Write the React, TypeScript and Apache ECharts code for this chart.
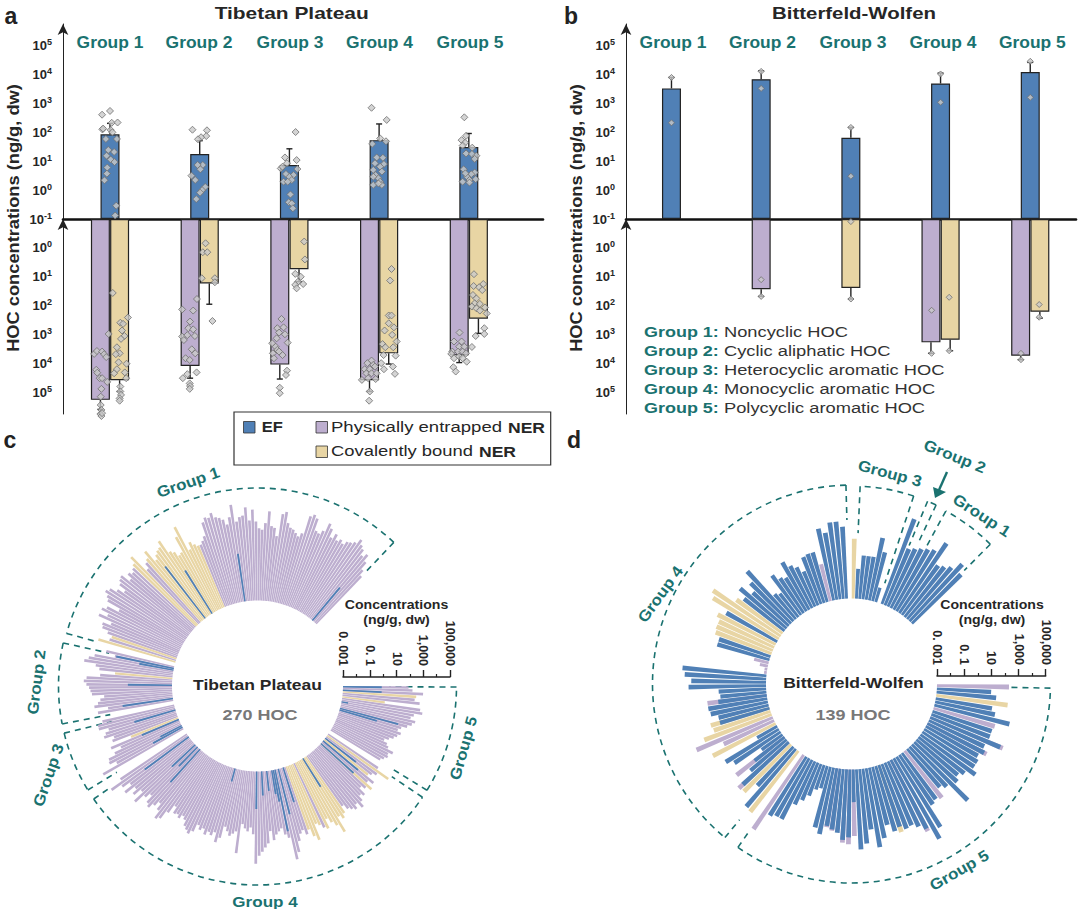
import React, { useEffect, useRef } from "react";
import * as echarts from "echarts";

const BLUE = "#5080b6", PURPLE = "#bdaecf", TAN = "#e8d5a4", TEAL = "#1a7270", INK = "#262626";
const FONT = '"Liberation Sans", Arial, sans-serif';
const GROUPS = ["Group 1", "Group 2", "Group 3", "Group 4", "Group 5"];
const TICK_RADIAL = ["0. 001", "0. 1", "10", "1,000", "100,000"];
const CLASSES = ["Noncyclic HOC", "Cyclic aliphatic HOC", "Heterocyclic aromatic HOC", "Monocyclic aromatic HOC", "Polycyclic aromatic HOC"];

// Panel a: log10 of bar heights and error ends
const aEF = [1.93, 1.25, 0.87, 1.73, 1.49];
const aEFErr = [2.31, 1.71, 1.43, 2.29, 1.96];
const aPE = [5.26, 4.09, 4.04, 4.58, 3.72];
const aPEErr = [5.59, 4.51, 4.54, 4.97, 3.97];
const aCB = [4.58, 1.23, 0.74, 3.65, 2.45];
const aCBErr = [4.97, 1.95, 1.17, 4.02, 2.96];
// Panel b
const bEF = [3.52, 3.84, 1.81, 3.69, 4.09];
const bEFErr = [3.9, 4.13, 2.17, 4.05, 4.42];
const bPE = [null, 1.43, null, 3.27, 3.73];
const bPEErr = [null, 1.68, null, 3.65, 3.87];
const bCB = [null, null, 1.39, 3.18, 2.21];
const bCBErr = [null, null, 1.77, 3.56, 2.43];

// Individual samples: [jitter, log10 value]
const aEFPts = [
  [[-23,2.61],[0,2.74],[5,2.33],[22,2.34],[-22,2.10],[2,2.08],[-12,1.77],[20,1.77],[-5,1.39],[12,1.32],[-10,1.19],[2,1.06],[13,.97],[-8,.78],[-9,.57],[-16,.34],[18,-.54],[15,-.88],[7,2.0],[-20,2.13]],
  [[-21,2.09],[21,2.07],[19,1.87],[4,1.83],[-5,1.76],[9,.87],[-6,.87],[2,.72],[-24,.5],[-13,.35],[16,.11],[7,0],[1,-.09],[-10,-.31]],
  [[18,2.01],[-13,1.13],[21,1.04],[-7,.93],[-25,.75],[-20,.81],[23,.73],[12,.52],[-10,.56],[0,.46],[7,.35],[-17,.29],[-5,.29],[3,-.15],[-2,-.42],[7,-.46],[10,-.63]],
  [[-22,2.85],[22,2.43],[-20,1.60],[3,1.79],[20,1.69],[-7,1.13],[11,1.12],[-12,.93],[14,.90],[3,.81],[-17,.70],[8,.64],[-10,.52],[-2,.41],[-17,.46],[3,.29],[-17,.18],[8,.18],[-2,.23]],
  [[-13,2.52],[-8,1.88],[-21,1.73],[-11,1.64],[-18,1.54],[10,1.47],[-8,1.27],[9,1.25],[22,1.19],[17,1.08],[-15,.72],[17,.61],[7,.55],[-5,.46],[2,.35],[-18,.29],[20,.38],[2,.26],[-10,.58]],
];
const aPEPts = [
  [[-4,2.98],[-46,3.67],[-38,3.57],[-23,3.59],[-17,3.68],[-11,3.78],[-40,4.22],[-37,4.32],[-30,4.51],[-23,4.51],[-8,4.64],[-25,4.88],[-27,5.15],[-27,5.44],[-25,5.61],[-28,5.75],[-25,5.82],[-23,5.72]],
  [[-8,1.77],[-51,2.13],[-19,2.17],[-28,2.55],[-33,2.78],[-19,2.82],[-51,3.07],[-36,3.02],[-14,3.05],[-46,3.19],[-23,3.51],[-13,3.65],[-41,3.82],[-29,3.88],[-9,4.31],[-36,4.37],[-49,4.51],[-29,4.69],[-28,4.78],[-29,4.88]],
  [[-23,2.46],[-35,2.78],[-17,2.75],[-30,2.93],[-13,2.99],[-37,3.13],[-50,3.30],[-5,3.28],[-40,3.42],[-35,3.53],[-48,3.65],[-20,3.71],[-30,3.59],[-45,3.82],[-7,4.25],[-10,4.40],[-28,4.84],[-28,5.03]],
  [[-22,3.90],[-34,3.99],[-17,4.05],[-42,4.20],[-27,4.20],[-12,4.11],[-37,4.34],[-22,4.34],[-7,4.34],[-50,4.57],[-32,4.51],[-10,4.54],[-27,4.97],[-29,5.29]],
  [[-27,2.93],[-43,3.24],[-21,3.24],[-28,3.42],[-13,3.42],[-48,3.59],[-31,3.59],[-18,3.59],[-8,3.65],[-51,3.67],[-28,3.76],[-43,3.82],[-18,3.82],[-6,3.94],[-45,4.13],[-38,4.28]],
];
const aCBPts = [
  [[8,1.56],[52,2.41],[30,2.59],[38,2.63],[35,2.86],[42,3.05],[32,3.15],[20,3.44],[28,3.65],[17,3.68],[25,3.96],[48,4.01],[20,4.20],[12,4.34],[43,4.31],[47,4.51],[30,4.80],[30,4.97],[32,5.09],[28,5.21],[28,5.29]],
  [[17,-.16],[9,.15],[22,.15],[6,1.05],[44,1.05],[44,1.19],[37,2.53]],
  [[43,-.22],[45,.40],[17,.90],[33,1.0],[25,1.17],[40,1.25],[17,1.28],[21,1.40]],
  [[36,.73],[32,1.13],[28,2.34],[36,2.34],[28,2.61],[43,2.75],[16,2.86],[38,3.01],[10,3.33],[51,3.24],[18,3.44],[41,3.44],[13,3.71],[48,3.73],[6,3.99],[40,4.11],[14,4.20],[46,4.36]],
  [[15,.91],[14,1.32],[30,1.36],[42,1.25],[39,1.46],[12,1.63],[22,1.75],[17,1.92],[9,2.03],[32,1.94],[47,2.06],[22,2.09],[32,2.17],[52,2.27],[45,2.78],[20,3.05],[45,2.98],[9,3.43]],
];
const bEFPts = [[[0,2.33],[0,3.9]],[[0,3.52],[0,4.11]],[[0,.48],[0,2.17]],[[0,3.04],[0,4.02]],[[0,3.21],[0,4.46]]];
const bPEPts = [[],[[0,1.10],[0,1.68]],[],[[-26,2.16],[-26,3.65]],[[-27,3.65],[-27,3.87]]];
const bCBPts = [[],[],[[0,-.91],[0,1.77]],[[25,1.71],[25,3.56]],[[26,1.96],[26,2.40]]];

// Panel c: longest phase per compound, log10 concentration, Group 1..5 counter-clockwise
const cG1 = [1.9,2.3,2.9,3.4,3.1,3.5,3.7,4.0,3.6,3.4,3.3,3.0,3.2,3.0,3.4,3.0,3.6,3.9,3.2,2.9,3.0,3.9,4.1,3.9,2.5,2.2,2.4,2.6,2.7,3.0,3.8,3.6,1.9,2.5,2.6,3.7,2.8,2.3,2.4,2.9,3.8,3.0,4.0,3.4,3.3,3.0,4.3,3.4,2.9,3.3,3.5,3.6,4.0,3.7,3.8,3.5,2.5,2.2,2.0,2.0,2.2,2.5,2.0,4.0,3.3,2.1,2.0,2.4,2.6,3.7,3.3,3.2,3.0,2.7,3.7,3.2,3.0,2.6,4.1,3.6,3.4,3.2,3.4,3.0,3.7,3.6,3.4,2.8,3.3,3.8,4.0,3.7,3.5,2.4,3.3,3.6,3.0,3.6,2.5,3.1,3.0,2.5,2.1,2.2,3.0];
const cG2 = [2.2,1.5,3.0,3.4,3.7,2.8,2.5,1.3,2.4,3.4,3.6,3.4,3.2,3.1,3.0,2.1,2.4,2.6,2.9,1.9,2.7];
const cG3 = [2.5,2.9,2.9,2.2,2.5,2.7,2.0,2.2,0.8,2.5,1.8,2.4,3.0,3.1,2.6,3.9];
const cG4 = [3.0,4.0,3.2,2.6,3.3,2.5,2.9,2.3,3.2,2.4,2.0,2.6,2.8,2.4,2.0,2.5,3.1,2.9,2.2,1.5,2.0,1.9,2.1,1.8,2.0,2.4,2.6,2.8,2.5,1.9,2.2,2.0,2.4,2.1,2.3,2.0,2.7,2.3,1.4,1.7,2.0,1.8,1.6,3.2,1.0,1.3,1.5,1.2,1.7,3.9,3.3,3.0,2.7,2.4,1.5,2.2,1.8,1.6,1.4,1.9,2.2,3.9,3.4,2.6,2.1,1.9,2.3,2.0,2.6,3.0,1.8,2.0,2.3,2.5,1.8,2.2,2.6,3.3,2.1,2.4,2.1,1.6,2.0,2.2,2.4,2.1,2.6,2.2,1.8,2.0,1.4,1.7,2.1,1.5,1.9,1.2,1.4,1.7,2.6,1.5];
const cG5 = [1.3,1.5,1.7,1.6,1.9,1.4,1.2,0.9,1.2,1.5,1.7,1.9,1.6,1.8,2.2,2.5,2.7,2.3,2.5,3.1,2.9,0.2,2.8,2.4,2.5,3.0,2.2,1.9];
const cTan = [[59,60,61,62,63,64,65,66,67,68,69,70,71,72,73,74,75,78,79,102,104],[7],[8],[67,68,69,70,71,73,74,75,76,77,78,79,80,92,95,98],[21,24]];
const cEF = [[[3,.2],[46,.6],[67,.8],[72,1.9]],[[1,1.4],[2,-.4],[11,.3],[19,.8]],[[3,.2],[9,0],[13,-1.2],[14,-.5]],[[2,1.1],[8,-.6],[10,-1],[12,.3],[36,-2],[49,-.2],[52,-1.2],[55,-1.5],[58,-1.2],[59,-.6],[60,1.7],[62,.5],[65,-.3],[78,-.5],[92,.3],[94,.4],[96,-.1]],[[13,-.1],[14,1.5],[18,-2.5],[25,-.1],[27,-.1]]];

// Panel d
const dG1 = [2.1,2.7,2.0,1.7,1.5,3.2,2.3,2.1,1.9,1.7];
const dG2 = [1.5,3.7];
const dG3 = [-1.9,0.7,1.7,0.2,0.2,0.2,-0.8,1.4];
const dG4 = [2.3,2.7,2.7,2.0,2.4,-0.2,0.8,0.8,0.7,-0.3,0.2,0.5,1.0,-0.1,0.1,0.6,-0.8,-0.6,2.0,1.2,0.6,1.5,0.8,1.2,3.0,2.7,1.3,1.8,1.5,1.5,1.4,1.0,1.0,-1.9,-2.4,-2.8,-2.8,3.2,3.0,2.5,2.7,0.5,0.4,1.4,1.4,1.3,0.8,1.5,1.4,2.3,3.1,1.1,2.2,-1.3,1.6,1.1,-1.1,1.5,0.5,2.0,1.9,0.9,2.6,2.7];
const dG5 = [3.6,2.1,1.9,1.9,0.5,0,-0.5,-1.1,-1.3,1.6,2.0,1.4,1.6,1.7,2.4,2.5,1.9,2.9,2.5,1.5,2.9,2.3,1.4,2.0,2.2,2.1,2.0,2.3,2.9,3.8,3.1,1.4,1.2,1.4,0.7,1.0,2.8,1.3,1.0,1.3,2.0,1.6,1.6,1.4,1.9,1.5,2.8,1.6,1.6,1.7,2.7,1.5,1.2,2.3,1.4,1.0,2.3];
const dPurple = [[],[],[],[5,33,34,35,36,43,50,51,57,59],[0,11,12,14,15,16,28,33,44,46,49,56]];
const dTan = [[],[],[7],[23,24,25,27,28,29,30,47,48,49,52,60,63],[24,53]];
const dEF = [[],[],[],[[43,.6],[47,.8],[57,-.2],[59,1.6]],[[11,1.3],[12,1.5],[14,2.2],[15,2.0],[16,-.6],[24,1.8],[28,2.7],[44,1.7],[46,2.6]]];

const COLORS = [BLUE, PURPLE, TAN];

function polarRows(groups: number[][], gaps: number[], tan: number[][], other: number[][], otherCode: number, defCode: number, efs: number[][][]) {
  const total = groups.reduce((s, g) => s + g.length, 0) + gaps.reduce((s, g) => s + g, 0);
  const main: number[][] = [], over: number[][] = [];
  let s = 0;
  groups.forEach((g, gi) => {
    g.forEach((v, k) => {
      const pos = total - 1 - (s + k) + 0.5;
      const code = tan[gi].includes(k) ? 2 : other[gi].includes(k) ? otherCode : defCode;
      main.push([v, pos, code]);
    });
    efs[gi].forEach(([k, v]) => over.push([v, total - 1 - (s + k) + 0.5, 0]));
    s += g.length + (gaps[gi] || 0);
  });
  return { main, over };
}

function radialBar(N: number, maxW: number, rMin: number) {
  const slot = (2 * Math.PI) / N;
  return (params: any, api: any) => {
    const e = api.value(0), x = api.value(1), c = api.value(2);
    const b = api.coord([rMin, x]), t = api.coord([e, x]);
    const cx = params.coordSys.cx, cy = params.coordSys.cy;
    const r0 = Math.hypot(b[0] - cx, b[1] - cy), r1 = Math.hypot(t[0] - cx, t[1] - cy);
    const ux = (b[0] - cx) / r0, uy = (b[1] - cy) / r0;
    const w0 = Math.min(maxW, r0 * slot * 0.86) / 2, w1 = Math.min(maxW, r1 * slot * 0.86) / 2;
    return {
      type: "polygon",
      shape: { points: [[b[0] - uy * w0, b[1] + ux * w0], [b[0] + uy * w0, b[1] - ux * w0], [t[0] + uy * w1, t[1] - ux * w1], [t[0] - uy * w1, t[1] + ux * w1]] },
      style: { fill: COLORS[c] },
    };
  };
}

const errItem = (_p: any, api: any) => {
  const b = api.coord([api.value(0), api.value(1)]), t = api.coord([api.value(0), api.value(2)]);
  const st = { stroke: "#222", lineWidth: 1.4 };
  return { type: "group", children: [
    { type: "line", shape: { x1: b[0], y1: b[1], x2: t[0], y2: t[1] }, style: st },
    { type: "line", shape: { x1: t[0] - 3, y1: t[1], x2: t[0] + 3, y2: t[1] }, style: st },
  ] };
};

const JIT = 1 / 260.5;
const barOff = 0.107;
// The vertical axes count decades above the 10^-1 baseline.
const FLOOR_EXP = -1;
const dec = (e: number | null) => (e == null ? null : e - FLOOR_EXP);

function txt(x: number, y: number, text: string, o: any = {}) {
  return {
    type: "text", x, y, silent: true, z: 20,
    rotation: ((o.rot || 0) * Math.PI) / 180, scaleX: o.sx || 1,
    style: {
      text, fill: o.color || INK,
      font: `${o.weight || "normal"} ${o.size || 14}px ${FONT}`,
      align: o.align || "center", verticalAlign: "middle", textAlign: o.align || "center", textVerticalAlign: "middle",
    },
  };
}

function frame(cx: number, cy: number, r: number, a1: number, a2: number, in1: number, in2: number) {
  const st = { stroke: TEAL, fill: "none", lineWidth: 1.6, lineDash: [6, 5] };
  const pt = (a: number, rr: number) => [cx + rr * Math.cos((a * Math.PI) / 180), cy - rr * Math.sin((a * Math.PI) / 180)];
  const [p1, q1, p2, q2] = [pt(a1, r), pt(a1, in1), pt(a2, r), pt(a2, in2)];
  return [
    { type: "arc", silent: true, shape: { cx, cy, r, startAngle: (-a1 * Math.PI) / 180, endAngle: (-a2 * Math.PI) / 180, clockwise: false }, style: st },
    { type: "line", silent: true, shape: { x1: p1[0], y1: p1[1], x2: q1[0], y2: q1[1] }, style: st },
    { type: "line", silent: true, shape: { x1: p2[0], y1: p2[1], x2: q2[0], y2: q2[1] }, style: st },
  ];
}

const powLabel = (hideMin: boolean) => (v: number) => {
  const r = Math.round(v);
  if (Math.abs(v - r) > 1e-3 || r > 6 || (hideMin && r === 0)) return "";
  return `{b|10}{s|${r + FLOOR_EXP}}`;
};

function makeAxes(gi: number, xmin: number, xmax: number) {
  const yCommon = (inverse: boolean) => ({
    type: "value", min: 0, max: 6.75, interval: 1, inverse,
    axisLine: { show: true, onZero: false, symbol: ["none", "arrow"], symbolSize: [8, 11], lineStyle: { color: "#222", width: 1 } },
    axisTick: { show: false }, splitLine: { show: false },
    axisLabel: {
      show: true, margin: 11, formatter: powLabel(inverse), hideOverlap: false,
      rich: {
        b: { fontFamily: FONT, fontWeight: "bold", fontSize: 13, color: INK },
        s: { fontFamily: FONT, fontWeight: "bold", fontSize: 9, color: INK, padding: [0, 0, 7, 0] },
      },
    },
  });
  const x = (gridIndex: number, show: boolean) => ({
    type: "value", gridIndex, min: xmin, max: xmax, position: "bottom",
    axisLine: { show, onZero: false, lineStyle: { color: "#111", width: 2.6 } },
    axisTick: { show: false }, axisLabel: { show: false }, splitLine: { show: false },
  });
  return {
    xAxis: [x(gi, true), x(gi + 1, false)],
    yAxis: [{ ...yCommon(false), gridIndex: gi }, { ...yCommon(true), gridIndex: gi + 1 }],
  };
}

const barStyle = (c: string) => ({ color: c, borderColor: "#222", borderWidth: 1.2 });

function barSeries(name: string, color: string, axis: number, vals: (number | null)[], off: (i: number) => number) {
  return {
    name, type: "bar", xAxisIndex: axis, yAxisIndex: axis, barWidth: 19, barGap: "-100%",
    itemStyle: barStyle(color), z: 2,
    data: vals.map((v, i) => [i + off(i), dec(v)]),
  };
}
function errSeries(axis: number, vals: (number | null)[], errs: (number | null)[], off: (i: number) => number) {
  const data: any[] = [];
  vals.forEach((v, i) => { if (v != null) data.push([i + off(i), dec(v), dec(errs[i])]); });
  return { type: "custom", xAxisIndex: axis, yAxisIndex: axis, renderItem: errItem, encode: { x: 0, y: [1, 2] }, data, z: 3, clip: false };
}
function ptSeries(axis: number, pts: number[][][], size: number) {
  const data: any[] = [];
  pts.forEach((g, i) => g.forEach(([j, e]) => data.push([i + j * JIT, dec(e)])));
  return {
    type: "scatter", xAxisIndex: axis, yAxisIndex: axis, symbol: "diamond", symbolSize: size, clip: false, z: 5,
    itemStyle: { color: "#c9c9c9", borderColor: "#6f6f6f", borderWidth: 1 }, data,
  };
}

export default function App() {
  const ref = useRef<HTMLDivElement>(null);
  useEffect(() => {
    const chart = echarts.init(ref.current!, undefined, { renderer: "svg" });

    const aAxes = makeAxes(0, -0.524, 4.827);
    const bAxes = makeAxes(2, -0.507, 4.51);
    const scaleAxis = (gridIndex: number) => ({
      type: "value", gridIndex, min: -3, max: 5, interval: 2, position: "bottom",
      axisLine: { show: true, onZero: false, lineStyle: { color: "#222", width: 1.5 } },
      axisTick: { show: true, inside: true, length: 7, lineStyle: { color: "#222", width: 1.4 } },
      minorTick: { show: true, splitNumber: 2, length: 3, lineStyle: { color: "#222", width: 1.2 } },
      splitLine: { show: false },
      axisLabel: {
        show: true, inside: true, rotate: -90, margin: 11, fontFamily: FONT, fontWeight: "bold", fontSize: 12.5, color: INK,
        hideOverlap: false, showMinLabel: true, showMaxLabel: true,
        formatter: (v: number) => TICK_RADIAL[Math.round((v + 3) / 2)],
      },
    });
    const scaleY = (gridIndex: number) => ({ type: "value", gridIndex, show: false, min: 0, max: 1 });

    const cN = 320, dN = 164;
    const cRows = polarRows([cG1, cG2, cG3, cG4, cG5], [2, 2, 3, 2], cTan, [[], [], [], [], []], 1, 1, cEF);
    const dRows = polarRows([dG1, dG2, dG3, dG4, dG5], [0, 1, 1, 1], dTan, dPurple, 1, 0, dEF);

    const polarSeries = (pi: number, rows: any, N: number, w: number, wOver: number) => [
      { type: "custom", coordinateSystem: "polar", polarIndex: pi, renderItem: radialBar(N, w, -3), encode: { radius: 0, angle: 1 }, data: rows.main, z: 2, clip: false },
      { type: "custom", coordinateSystem: "polar", polarIndex: pi, renderItem: radialBar(N, wOver, -3), encode: { radius: 0, angle: 1 }, data: rows.over, z: 3, clip: false },
    ];

    const g: any[] = [];
    // Panel letters and titles
    g.push(txt(11, 16, "a", { size: 23, weight: "bold", color: "#222" }));
    g.push(txt(571, 16, "b", { size: 23, weight: "bold", color: "#222" }));
    g.push(txt(10, 440, "c", { size: 23, weight: "bold", color: "#222" }));
    g.push(txt(574, 440, "d", { size: 23, weight: "bold", color: "#222" }));
    g.push(txt(291.7, 13, "Tibetan Plateau", { size: 17, weight: "bold", sx: 1.23 }));
    g.push(txt(854, 13, "Bitterfeld-Wolfen", { size: 17, weight: "bold", sx: 1.2 }));
    g.push(txt(13, 218, "HOC concentrations (ng/g, dw)", { size: 16.5, weight: "bold", rot: 90, sx: 1.107 }));
    g.push(txt(576, 218, "HOC concentrations (ng/g, dw)", { size: 16.5, weight: "bold", rot: 90, sx: 1.107 }));
    [110, 199, 290, 379.5, 470].forEach((x, i) => g.push(txt(x, 43, GROUPS[i], { size: 16, weight: "bold", color: TEAL, sx: 1.09 })));
    [673, 762.5, 853, 943, 1032.4].forEach((x, i) => g.push(txt(x, 43, GROUPS[i], { size: 16, weight: "bold", color: TEAL, sx: 1.09 })));

    // Key of groups, panel b
    CLASSES.forEach((c, i) => {
      const y = 331.7 + i * 19;
      g.push(txt(644, y, `${GROUPS[i]}:`, { size: 15.5, weight: "bold", color: TEAL, align: "left", sx: 1.16 }));
      g.push(txt(724, y, c, { size: 15.5, color: "#333", align: "left", sx: 1.18 }));
    });

    // Legend
    g.push({ type: "rect", silent: true, shape: { x: 234, y: 412, width: 316.7, height: 53 }, style: { fill: "#fff", stroke: "#333", lineWidth: 1.2 }, z: 10 });
    [[243.5, 421.5, BLUE], [316, 421.5, PURPLE], [316, 446, TAN]].forEach(([x, y, c]: any) =>
      g.push({ type: "rect", silent: true, shape: { x, y, width: 11.5, height: 11.5 }, style: { fill: c, stroke: "#333", lineWidth: 0.8 }, z: 20 }));
    g.push(txt(261.7, 427, "EF", { size: 15, weight: "bold", align: "left", sx: 1.1 }));
    g.push(txt(331, 427, "Physically entrapped", { size: 15, align: "left", sx: 1.236 }));
    g.push(txt(508, 427, "NER", { size: 15, weight: "bold", align: "left", sx: 1.17 }));
    g.push(txt(331, 451, "Covalently bound", { size: 15, align: "left", sx: 1.225 }));
    g.push(txt(479, 451, "NER", { size: 15, weight: "bold", align: "left", sx: 1.17 }));

    // Radial panels: centre labels and axis captions
    g.push(txt(257.5, 685, "Tibetan Plateau", { size: 15.5, weight: "bold", sx: 1.13 }));
    g.push(txt(260, 715, "270 HOC", { size: 15.5, weight: "bold", color: "#787878", sx: 1.16 }));
    g.push(txt(853.5, 683, "Bitterfeld-Wolfen", { size: 15.5, weight: "bold", sx: 1.13 }));
    g.push(txt(853, 715, "139 HOC", { size: 15.5, weight: "bold", color: "#787878", sx: 1.16 }));
    g.push(txt(396.5, 605, "Concentrations", { size: 12.5, weight: "bold", sx: 1.13 }));
    g.push(txt(396.5, 620, "(ng/g, dw)", { size: 12.5, weight: "bold", sx: 1.13 }));
    g.push(txt(992, 605, "Concentrations", { size: 12.5, weight: "bold", sx: 1.13 }));
    g.push(txt(992, 620, "(ng/g, dw)", { size: 12.5, weight: "bold", sx: 1.13 }));

    // Radial group frames
    const cx1 = 257.5, cy1 = 686, cx2 = 851.5, cy2 = 684;
    g.push(...frame(cx1, cy1, 198, 46.5, 164.6, 155, 168));
    g.push(...frame(cx1, cy1, 199, 167.5, 191, 152, 150));
    g.push(...frame(cx1, cy1, 199, 193.7, 211.5, 150, 165));
    g.push(...frame(cx1, cy1, 199, 214.6, 326, 177, 162));
    g.push(...frame(cx1, cy1, 199, 328.4, 359.7, 160, 132));
    g.push(...frame(cx2, cy2, 197, 45.2, 61.4, 160, 153));
    g.push(...frame(cx2, cy2, 198, 64.7, 67.4, 157, 150));
    g.push(...frame(cx2, cy2, 198, 71.7, 87.5, 106, 151));
    g.push(...frame(cx2, cy2, 199, 91.6, 230.5, 164, 176));
    g.push(...frame(cx2, cy2, 199, 235.2, 358.8, 179, 158));

    const tealLab = { size: 15.5, weight: "bold", color: TEAL, sx: 1.1 };
    g.push(txt(188, 482, "Group 1", { ...tealLab, rot: 19 }));
    g.push(txt(36, 682, "Group 2", { ...tealLab, rot: 83 }));
    g.push(txt(48, 775, "Group 3", { ...tealLab, rot: 71 }));
    g.push(txt(265, 901, "Group 4", tealLab));
    g.push(txt(463, 748, "Group 5", { ...tealLab, rot: 74 }));
    g.push(txt(660, 594, "Group 4", { ...tealLab, rot: 54 }));
    g.push(txt(890, 473, "Group 3", { ...tealLab, rot: -15 }));
    g.push(txt(955, 456, "Group 2", { ...tealLab, rot: -22 }));
    g.push(txt(982, 515, "Group 1", { ...tealLab, rot: -33 }));
    g.push(txt(959, 870, "Group 5", { ...tealLab, rot: 30 }));

    // Arrow to the narrow group 2
    g.push({ type: "line", silent: true, shape: { x1: 947, y1: 472, x2: 939, y2: 490 }, style: { stroke: TEAL, lineWidth: 2.4 } });
    g.push({ type: "polygon", silent: true, shape: { points: [[935, 498], [933, 487], [946, 492]] }, style: { fill: TEAL } });

    chart.setOption({
      animation: false,
      backgroundColor: "#fff",
      grid: [
        { left: 63, top: 24, width: 480, height: 195 },
        { left: 63, top: 219, width: 480, height: 195 },
        { left: 626, top: 24, width: 450, height: 195 },
        { left: 626, top: 219, width: 450, height: 195 },
        { left: 343, top: 676, width: 107, height: 1 },
        { left: 937, top: 675, width: 108.7, height: 1 },
      ],
      xAxis: [...aAxes.xAxis, ...bAxes.xAxis, scaleAxis(4), scaleAxis(5)],
      yAxis: [...aAxes.yAxis, ...bAxes.yAxis, scaleY(4), scaleY(5)],
      polar: [
        { center: [cx1, cy1], radius: [85.5, 192.5] },
        { center: [cx2, cy2], radius: [85.5, 194.2] },
      ],
      angleAxis: [
        { polarIndex: 0, type: "value", min: 0, max: cN, startAngle: 0, clockwise: true, show: false },
        { polarIndex: 1, type: "value", min: 0, max: dN, startAngle: 0, clockwise: true, show: false },
      ],
      radiusAxis: [
        { polarIndex: 0, type: "value", min: -3, max: 5, show: false },
        { polarIndex: 1, type: "value", min: -3, max: 5, show: false },
      ],
      series: [
        barSeries("EF", BLUE, 0, aEF, () => 0),
        errSeries(0, aEF, aEFErr, () => 0),
        ptSeries(0, aEFPts, 7),
        barSeries("Physically entrapped NER", PURPLE, 1, aPE, () => -barOff),
        barSeries("Covalently bound NER", TAN, 1, aCB, () => barOff),
        errSeries(1, aPE, aPEErr, () => -barOff),
        errSeries(1, aCB, aCBErr, () => barOff),
        ptSeries(1, aPEPts, 7),
        ptSeries(1, aCBPts, 7),
        barSeries("EF", BLUE, 2, bEF, () => 0),
        errSeries(2, bEF, bEFErr, () => 0),
        ptSeries(2, bEFPts, 6),
        barSeries("Physically entrapped NER", PURPLE, 3, bPE, (i) => (bCB[i] == null ? 0 : -barOff)),
        barSeries("Covalently bound NER", TAN, 3, bCB, (i) => (bPE[i] == null ? 0 : barOff)),
        errSeries(3, bPE, bPEErr, (i) => (bCB[i] == null ? 0 : -barOff)),
        errSeries(3, bCB, bCBErr, (i) => (bPE[i] == null ? 0 : barOff)),
        ptSeries(3, bPEPts, 6),
        ptSeries(3, bCBPts, 6),
        ...polarSeries(0, cRows, cN, 2.7, 1.9),
        ...polarSeries(1, dRows, dN, 4.8, 4.8),
      ],
      graphic: { elements: g },
    });
    return () => chart.dispose();
  }, []);
  return <div ref={ref} style={{ position: "absolute", left: 0, top: 0, width: 1080, height: 909 }} />;
}
